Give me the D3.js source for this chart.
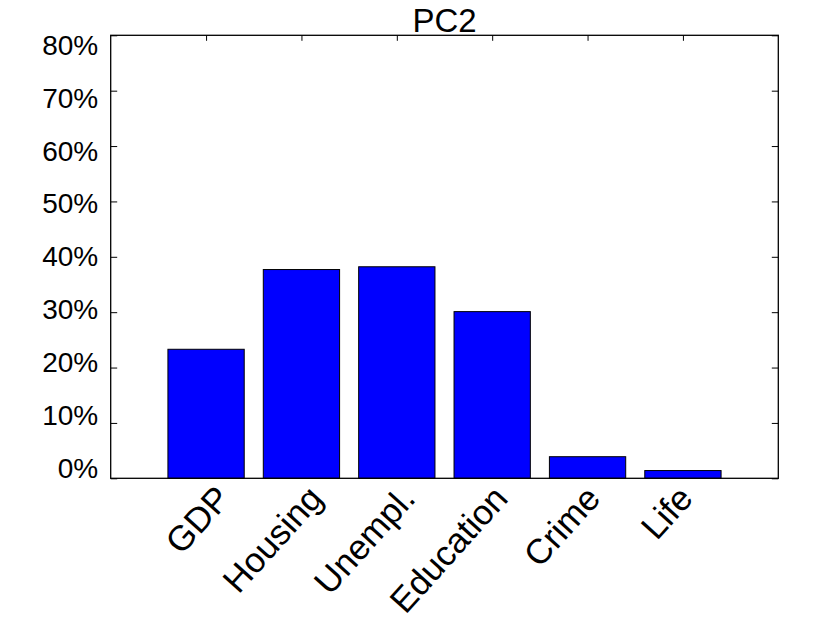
<!DOCTYPE html>
<html>
<head>
<meta charset="utf-8">
<script src="https://cdn.jsdelivr.net/npm/d3@7"></script>
<style>
  html, body { margin: 0; padding: 0; background: #fff; }
  svg { display: block; }
  text { font-family: "Liberation Sans", Arial, Helvetica, sans-serif; fill: #000; }
</style>
</head>
<body>
<svg id="chart" width="830" height="623"></svg>
<script>
const categories = ["GDP", "Housing", "Unempl.", "Education", "Crime", "Life"];
const values = [23.3, 37.7, 38.2, 30.1, 3.9, 1.4];
const yTicks = [0, 10, 20, 30, 40, 50, 60, 70, 80];
const chartTitle = "PC2";

const svg = d3.select("#chart");
const pL = 110.7, pR = 778.3, pT = 35.3, pB = 478.3;

const x = d3.scaleLinear().domain([0, categories.length + 1]).range([pL, pR]);
const y = d3.scaleLinear().domain([0, 80]).range([pB, pT]);
// label scales (labels sit slightly compressed toward the plot centre, as in the reference)
const xc = (pL + pR) / 2, yc = (pT + pB) / 2;
const kx = 0.97, ky = 0.954;
const xLab = d3.scaleLinear().domain([0, categories.length + 1]).range([xc + (pL - xc) * kx, xc + (pR - xc) * kx]);
const yLab = d3.scaleLinear().domain([0, 80]).range([yc + (pB - yc) * ky, yc + (pT - yc) * ky]);
const barW = x(0.8) - x(0);

// bars
svg.append("g").selectAll("rect")
  .data(values)
  .join("rect")
  .attr("x", (d, i) => x(i + 1) - barW / 2)
  .attr("y", d => y(d))
  .attr("width", barW)
  .attr("height", d => y(0) - y(d))
  .attr("fill", "#0000ff")
  .attr("stroke", "#000")
  .attr("stroke-width", 1);

// box
svg.append("rect")
  .attr("x", pL).attr("y", pT)
  .attr("width", pR - pL).attr("height", pB - pT)
  .attr("fill", "none").attr("stroke", "#000").attr("stroke-width", 1.3);

// y ticks left (inside)
const gL = svg.append("g").attr("transform", `translate(${pL},0)`)
  .call(d3.axisLeft(y).tickValues(yTicks).tickSize(-6.5).tickFormat(""));
gL.select(".domain").remove();
gL.selectAll("line").attr("stroke", "#000");

// y tick labels
const gLL = svg.append("g").attr("transform", `translate(${pL},0)`)
  .call(d3.axisLeft(yLab).tickValues(yTicks).tickSize(0).tickPadding(12.5).tickFormat(d => d + "%"));
gLL.select(".domain").remove();
gLL.selectAll("text").attr("font-size", 28).attr("font-family", "Liberation Sans, Arial, sans-serif");

// y ticks right (inside)
const gR = svg.append("g").attr("transform", `translate(${pR},0)`)
  .call(d3.axisRight(y).tickValues(yTicks).tickSize(-6.5).tickFormat(""));
gR.select(".domain").remove();
gR.selectAll("line").attr("stroke", "#000");

// x ticks top (inside)
const idx = d3.range(1, categories.length + 1);
const gT = svg.append("g").attr("transform", `translate(0,${pT})`)
  .call(d3.axisTop(x).tickValues(idx).tickSize(-5.5).tickFormat(""));
gT.select(".domain").remove();
gT.selectAll("line").attr("stroke", "#000");

// x labels, rotated
const gB = svg.append("g").attr("transform", `translate(0,${pB})`)
  .call(d3.axisBottom(xLab).tickValues(idx).tickSize(0).tickFormat(i => categories[i - 1]));
gB.select(".domain").remove();
gB.selectAll("text")
  .attr("font-size", 35)
  .attr("font-family", "Liberation Sans, Arial, sans-serif")
  .attr("text-anchor", "end")
  .attr("dy", null)
  .attr("dominant-baseline", "central")
  .attr("transform", "translate(9,13) rotate(-48)")
  .attr("y", 0)
  .attr("x", 0);

// title
svg.append("text")
  .attr("x", xc)
  .attr("y", 31.5)
  .attr("text-anchor", "middle")
  .attr("font-size", 33)
  .text(chartTitle);
</script>
</body>
</html>
